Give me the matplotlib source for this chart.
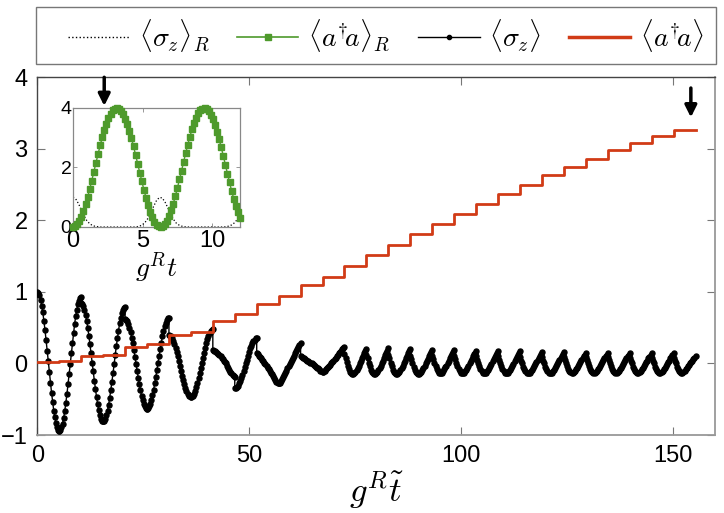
import numpy as np
import matplotlib
matplotlib.use('Agg')
import matplotlib.pyplot as plt
from matplotlib.lines import Line2D
from matplotlib.patches import Rectangle

plt.rcParams['font.family'] = ['Liberation Sans', 'DejaVu Sans']
plt.rcParams['mathtext.fontset'] = 'cm'

# ---------------- data ----------------
# times of the photon-number steps (main panel)
step_times = [0.0, 5.18, 10.36, 15.54, 20.72, 25.90, 31.08, 36.26, 41.44, 46.62,
              51.80, 56.98, 62.16, 67.34, 72.52, 77.70, 82.88, 88.06, 93.24, 98.42,
              103.60, 108.78, 113.96, 119.14, 124.32, 129.50, 134.68, 139.86, 145.04, 150.22]
t_end = 155.4
photon_levels = [0.02, 0.03, 0.10, 0.12, 0.23, 0.27, 0.40, 0.44, 0.60, 0.69,
                 0.83, 0.94, 1.09, 1.21, 1.36, 1.51, 1.66, 1.81, 1.95, 2.09,
                 2.23, 2.37, 2.50, 2.63, 2.75, 2.86, 2.98, 3.08, 3.18, 3.26]

# <sigma_z> values, 21 samples inside each interval between steps
sz_segments = [
    [1.00, 0.99, 0.95, 0.89, 0.81, 0.72, 0.60, 0.47, 0.33, 0.18, 0.03, -0.12, -0.27, -0.41, -0.54, -0.66, -0.75, -0.83, -0.89, -0.93, -0.94],
    [-0.94, -0.93, -0.89, -0.84, -0.76, -0.67, -0.55, -0.43, -0.29, -0.15, -0.01, 0.14, 0.28, 0.42, 0.55, 0.66, 0.75, 0.83, 0.88, 0.92, 0.93],
    [0.84, 0.83, 0.80, 0.75, 0.68, 0.60, 0.50, 0.39, 0.27, 0.14, 0.01, -0.11, -0.24, -0.36, -0.47, -0.57, -0.65, -0.72, -0.77, -0.80, -0.81],
    [-0.81, -0.80, -0.77, -0.72, -0.66, -0.58, -0.48, -0.37, -0.26, -0.14, -0.01, 0.12, 0.24, 0.35, 0.46, 0.56, 0.64, 0.70, 0.75, 0.78, 0.79],
    [0.62, 0.61, 0.59, 0.55, 0.50, 0.44, 0.36, 0.28, 0.19, 0.09, -0.01, -0.10, -0.20, -0.29, -0.37, -0.45, -0.51, -0.56, -0.60, -0.62, -0.63],
    [-0.63, -0.62, -0.60, -0.56, -0.51, -0.44, -0.37, -0.28, -0.19, -0.09, 0.00, 0.10, 0.20, 0.29, 0.38, 0.45, 0.52, 0.57, 0.61, 0.63, 0.64],
    [0.40, 0.39, 0.38, 0.35, 0.32, 0.27, 0.22, 0.16, 0.10, 0.03, -0.04, -0.10, -0.17, -0.23, -0.29, -0.34, -0.39, -0.42, -0.45, -0.46, -0.47],
    [-0.47, -0.46, -0.45, -0.42, -0.38, -0.33, -0.27, -0.21, -0.14, -0.07, 0.00, 0.08, 0.15, 0.22, 0.28, 0.34, 0.39, 0.43, 0.46, 0.47, 0.48],
    [0.19, 0.18, 0.17, 0.16, 0.15, 0.13, 0.12, 0.10, 0.08, 0.06, 0.04, 0.02, 0.00, -0.03, -0.06, -0.09, -0.12, -0.14, -0.16, -0.18, -0.19],
    [-0.35, -0.35, -0.33, -0.31, -0.28, -0.25, -0.21, -0.16, -0.11, -0.05, 0.00, 0.05, 0.11, 0.16, 0.21, 0.25, 0.28, 0.31, 0.33, 0.35, 0.35],
    [0.15, 0.13, 0.11, 0.09, 0.07, 0.05, 0.03, 0.01, -0.01, -0.03, -0.06, -0.08, -0.10, -0.13, -0.15, -0.18, -0.21, -0.23, -0.26, -0.27, -0.28],
    [-0.28, -0.27, -0.25, -0.22, -0.19, -0.16, -0.13, -0.10, -0.07, -0.04, -0.01, 0.02, 0.05, 0.08, 0.11, 0.14, 0.17, 0.20, 0.23, 0.26, 0.28],
    [0.10, 0.09, 0.08, 0.07, 0.06, 0.05, 0.04, 0.03, 0.02, 0.01, 0.00, -0.01, -0.02, -0.03, -0.05, -0.06, -0.07, -0.08, -0.10, -0.11, -0.12],
    [-0.12, -0.11, -0.10, -0.08, -0.07, -0.05, -0.03, -0.02, 0.00, 0.02, 0.04, 0.06, 0.08, 0.10, 0.12, 0.14, 0.16, 0.18, 0.20, 0.22, 0.23],
    [0.13, 0.07, 0.02, -0.04, -0.08, -0.12, -0.14, -0.15, -0.15, -0.14, -0.12, -0.09, -0.06, -0.03, 0.00, 0.04, 0.07, 0.11, 0.14, 0.17, 0.20],
    [0.12, 0.07, 0.01, -0.04, -0.09, -0.12, -0.14, -0.15, -0.15, -0.14, -0.12, -0.09, -0.06, -0.03, 0.00, 0.04, 0.08, 0.12, 0.15, 0.18, 0.21],
    [0.12, 0.07, 0.01, -0.04, -0.09, -0.12, -0.14, -0.15, -0.15, -0.14, -0.12, -0.09, -0.06, -0.03, 0.00, 0.04, 0.07, 0.11, 0.14, 0.17, 0.20],
    [0.11, 0.06, 0.01, -0.05, -0.09, -0.12, -0.14, -0.15, -0.15, -0.14, -0.12, -0.09, -0.06, -0.03, 0.00, 0.03, 0.06, 0.10, 0.13, 0.16, 0.19],
    [0.11, 0.06, 0.01, -0.04, -0.08, -0.11, -0.13, -0.14, -0.14, -0.13, -0.11, -0.08, -0.05, -0.03, 0.00, 0.04, 0.07, 0.10, 0.13, 0.16, 0.19],
    [0.11, 0.06, 0.01, -0.04, -0.08, -0.11, -0.13, -0.14, -0.14, -0.13, -0.11, -0.09, -0.06, -0.03, 0.00, 0.03, 0.06, 0.10, 0.13, 0.15, 0.18],
    [0.10, 0.05, 0.00, -0.04, -0.08, -0.11, -0.13, -0.14, -0.14, -0.13, -0.11, -0.09, -0.06, -0.03, -0.01, 0.03, 0.06, 0.09, 0.12, 0.14, 0.17],
    [0.10, 0.05, 0.00, -0.04, -0.08, -0.11, -0.13, -0.14, -0.14, -0.13, -0.11, -0.09, -0.06, -0.03, -0.01, 0.03, 0.06, 0.09, 0.12, 0.14, 0.17],
    [0.09, 0.04, 0.00, -0.05, -0.08, -0.11, -0.13, -0.14, -0.14, -0.13, -0.11, -0.09, -0.06, -0.04, -0.01, 0.02, 0.05, 0.08, 0.11, 0.13, 0.16],
    [0.09, 0.04, 0.00, -0.05, -0.08, -0.11, -0.13, -0.14, -0.14, -0.13, -0.11, -0.09, -0.06, -0.04, -0.01, 0.02, 0.05, 0.08, 0.11, 0.13, 0.16],
    [0.09, 0.05, 0.00, -0.04, -0.08, -0.10, -0.12, -0.13, -0.13, -0.12, -0.10, -0.08, -0.06, -0.03, -0.01, 0.02, 0.05, 0.08, 0.10, 0.12, 0.15],
    [0.09, 0.05, 0.00, -0.04, -0.08, -0.10, -0.12, -0.13, -0.13, -0.12, -0.10, -0.08, -0.06, -0.03, -0.01, 0.02, 0.05, 0.08, 0.10, 0.12, 0.15],
    [0.09, 0.05, 0.00, -0.04, -0.08, -0.10, -0.12, -0.13, -0.13, -0.12, -0.10, -0.08, -0.06, -0.03, -0.01, 0.02, 0.05, 0.08, 0.10, 0.12, 0.15],
    [0.08, 0.04, 0.00, -0.05, -0.08, -0.10, -0.12, -0.13, -0.13, -0.12, -0.10, -0.08, -0.06, -0.04, -0.01, 0.02, 0.04, 0.07, 0.09, 0.12, 0.14],
    [0.08, 0.04, 0.00, -0.05, -0.08, -0.10, -0.12, -0.13, -0.13, -0.12, -0.10, -0.08, -0.06, -0.04, -0.01, 0.02, 0.04, 0.07, 0.09, 0.12, 0.14],
    [0.08, 0.04, 0.00, -0.05, -0.08, -0.10, -0.12, -0.13, -0.13, -0.12, -0.10, -0.08, -0.06, -0.04, -0.02, 0.00, 0.02, 0.04, 0.06, 0.08, 0.10],
]

# inset: resonant exchange
t_inset_start, t_inset_stop = 0.0, 12.0
nR_values = [0.00, 0.02, 0.09, 0.20, 0.35, 0.54, 0.76, 1.00, 1.28, 1.56, 1.86, 2.16, 2.45, 2.74, 3.01, 3.26,
             3.47, 3.66, 3.81, 3.92, 3.98, 4.00, 3.97, 3.91, 3.79, 3.64, 3.45, 3.23, 2.98, 2.71, 2.42, 2.12,
             1.82, 1.53, 1.24, 0.98, 0.73, 0.52, 0.33, 0.18, 0.08, 0.02, 0.00, 0.03, 0.10, 0.21, 0.37, 0.56,
             0.78, 1.03, 1.31, 1.60, 1.89, 2.19, 2.49, 2.77, 3.04, 3.28, 3.50, 3.68, 3.82, 3.92, 3.98, 4.00,
             3.97, 3.90, 3.78, 3.63, 3.44, 3.21, 2.95, 2.68, 2.39, 2.09, 1.79, 1.50, 1.21, 0.95, 0.71, 0.50, 0.31]
szR_values = [1.00, 0.94, 0.78, 0.57, 0.37, 0.21, 0.11, 0.05, 0.02, 0.01, 0.00,
              0.00, 0.00, 0.00, 0.00, 0.00, 0.00, 0.00, 0.00, 0.00, 0.00, 0.00, 0.00,
              0.01, 0.03, 0.08, 0.17, 0.30, 0.49, 0.70, 0.89, 0.99, 0.98, 0.85, 0.66, 0.45, 0.27, 0.14, 0.07, 0.03, 0.01,
              0.00, 0.00, 0.00, 0.00, 0.00, 0.00, 0.00, 0.00, 0.00, 0.00, 0.00, 0.00, 0.00, 0.00,
              0.01, 0.03, 0.07, 0.14, 0.25, 0.38]

# arrows (x position, top, tip) in main-axes data units
arrow_marks = [(15.8, 4.00, 3.60), (154.3, 3.85, 3.44)]

legend_labels = [r'$\langle\sigma_z\rangle_R$', r'$\langle a^{\dagger}\!a\rangle_R$',
                 r'$\langle\sigma_z\rangle$', r'$\langle a^{\dagger}\!a\rangle$']

# ---------------- figure ----------------
RED = '#d13b16'
GREEN = '#4e9a2c'
W, H = 724, 513
fig = plt.figure(figsize=(W / 100, H / 100), dpi=100)

ax = fig.add_axes([37.3 / W, 1 - 435 / H, (715 - 37.3) / W, (435 - 77.3) / H])

edges = step_times + [t_end]
sz_t = np.concatenate([np.linspace(edges[k], edges[k + 1], len(seg))
                       for k, seg in enumerate(sz_segments)])
sz_v = np.concatenate([np.asarray(s) for s in sz_segments])
ax.plot(sz_t, sz_v, color='k', lw=1.0, marker='o', ms=3.6, zorder=3)

red_t = step_times + [t_end]
red_v = photon_levels + [photon_levels[-1]]
ax.plot(red_t, red_v, color=RED, lw=2.0, drawstyle='steps-post', zorder=4)

ax.set_xlim(0, 160)
ax.set_ylim(-1, 4)
ax.set_xticks([0, 50, 100, 150])
ax.set_yticks([-1, 0, 1, 2, 3, 4])
ax.set_yticklabels(['\u22121', '0', '1', '2', '3', '4'])
ax.tick_params(direction='in', length=6, width=0.8, top=True, right=True,
               color='#777777', labelsize=17)
ax.tick_params(axis='x', pad=7)
ax.tick_params(axis='y', pad=7)
for side in ['left', 'top']:
    ax.spines[side].set_color('#444444')
    ax.spines[side].set_linewidth(1.0)
for side in ['right', 'bottom']:
    ax.spines[side].set_color('#999999')
    ax.spines[side].set_linewidth(1.3)
ax.set_xlabel(r'$g^R\tilde{t}$', fontsize=25, labelpad=2)

for x, y0, y1 in arrow_marks:
    ax.annotate('', xy=(x, y1), xytext=(x, y0),
                arrowprops=dict(arrowstyle='-|>,head_length=0.7,head_width=0.35',
                                lw=2.5, color='k', shrinkA=0, shrinkB=0),
                annotation_clip=False, zorder=6)

# inset
axin = fig.add_axes([73 / W, 1 - 227 / H, (240 - 73) / W, (227 - 108) / H])
t_n = np.linspace(t_inset_start, t_inset_stop, len(nR_values))
t_s = np.linspace(t_inset_start, t_inset_stop, len(szR_values))
axin.plot(t_s, szR_values, color='k', ls=':', lw=0.9)
axin.plot(t_n, nR_values, color=GREEN, lw=1.0, marker='s', ms=4.2,
          mec=GREEN, mfc=GREEN, clip_on=False, zorder=3)
axin.set_xlim(0, 12)
axin.set_ylim(0, 4)
axin.set_xticks([0, 5, 10])
axin.set_yticks([0, 2, 4])
axin.tick_params(direction='in', length=3, width=0.6, top=True, right=True,
                 color='#888888')
axin.tick_params(axis='x', labelsize=17, pad=2)
axin.tick_params(axis='y', labelsize=14, pad=1)
for side in axin.spines:
    axin.spines[side].set_color('#888888')
    axin.spines[side].set_linewidth(0.9)
axin.set_xlabel(r'$g^Rt$', fontsize=20, labelpad=-1)

# legend
handles = [Line2D([], [], color='k', ls=':', lw=1.0),
           Line2D([], [], color=GREEN, lw=1.2, marker='s', ms=5),
           Line2D([], [], color='k', lw=1.0, marker='o', ms=3),
           Line2D([], [], color=RED, lw=2.5)]
fig.legend(handles, legend_labels, loc='center',
           bbox_to_anchor=(386 / W, 1 - 35.5 / H), ncol=4, fontsize=20,
           frameon=False, numpoints=1, handlelength=2.2, handletextpad=0.35,
           columnspacing=1.0)
fig.patches.append(Rectangle((36 / W, 1 - 64 / H), 680 / W, 57 / H,
                             transform=fig.transFigure, fill=False,
                             edgecolor='#777777', lw=1.0))

fig.savefig('out.png', dpi=100)
